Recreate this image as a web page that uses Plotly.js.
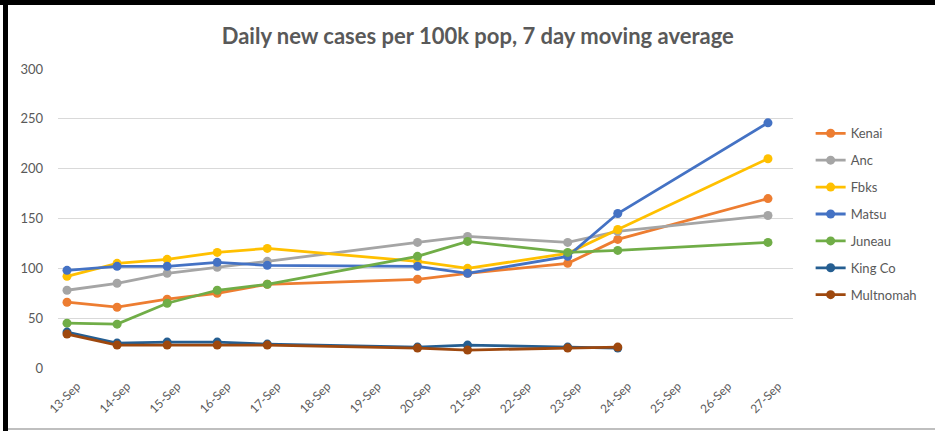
<!DOCTYPE html>
<html>
<head>
<meta charset="utf-8">
<script src="https://cdn.plot.ly/plotly-3.0.1.min.js"></script>
<style>
  html, body { margin: 0; padding: 0; background: #fff; }
  #wrap { position: relative; width: 935px; height: 431px; overflow: hidden; }
  #chart { position: absolute; left: 0; top: 0; width: 935px; height: 431px; }
  .bar { position: absolute; pointer-events: none; }
</style>
</head>
<body>
<div id="wrap">
  <div id="chart"></div>
  <div class="bar" style="left:0;top:0;width:935px;height:5px;background:#000;"></div>
  <div class="bar" style="left:3px;top:0;width:5px;height:431px;background:#000;"></div>
  <div class="bar" style="left:8px;top:428px;width:927px;height:2px;background:#bfbfbf;"></div>
</div>
<script>
// All category labels on the x axis
const allDates = ["13-Sep","14-Sep","15-Sep","16-Sep","17-Sep","18-Sep","19-Sep","20-Sep",
                  "21-Sep","22-Sep","23-Sep","24-Sep","25-Sep","26-Sep","27-Sep"];
// Dates with data
const datesAK = ["13-Sep","14-Sep","15-Sep","16-Sep","17-Sep","20-Sep","21-Sep","23-Sep","24-Sep","27-Sep"];
const datesOut = ["13-Sep","14-Sep","15-Sep","16-Sep","17-Sep","20-Sep","21-Sep","23-Sep","24-Sep"];

const kenai     = [66, 61, 69, 75, 84, 89, 95, 105, 129, 170];
const anc       = [78, 85, 95, 101, 107, 126, 132, 126, 137, 153];
const fbks      = [92, 105, 109, 116, 120, 107, 100, 115, 139, 210];
const matsu     = [98, 102, 102, 106, 103, 102, 95, 112, 155, 246];
const juneau    = [45, 44, 65, 78, 84, 112, 127, 116, 118, 126];
const kingCo    = [36, 25, 26, 26, 24, 21, 23, 21, 20];
const multnomah = [34, 23, 23, 23, 23, 20, 18, 20, 21];

const yTicks = [0, 50, 100, 150, 200, 250, 300];

const series = [
  {name: "Kenai",     x: datesAK,  y: kenai,     color: "#ED7D31"},
  {name: "Anc",       x: datesAK,  y: anc,       color: "#A5A5A5"},
  {name: "Fbks",      x: datesAK,  y: fbks,      color: "#FFC000"},
  {name: "Matsu",     x: datesAK,  y: matsu,     color: "#4472C4"},
  {name: "Juneau",    x: datesAK,  y: juneau,    color: "#70AD47"},
  {name: "King Co",   x: datesOut, y: kingCo,    color: "#255E91"},
  {name: "Multnomah", x: datesOut, y: multnomah, color: "#9E480E"}
];

const traces = series.map((s, i) => ({
  type: "scatter",
  mode: "lines+markers",
  name: s.name,
  legendgroup: "g" + i,
  x: s.x,
  y: s.y,
  line: {color: s.color, width: 2.8},
  marker: {color: s.color, size: 9},
  hoverinfo: "x+y+name"
}));

const font = "Lato, 'Open Sans', 'DejaVu Sans', sans-serif";

const layout = {
  width: 935,
  height: 431,
  margin: {l: 58, r: 142, t: 69, b: 63},
  paper_bgcolor: "#ffffff",
  plot_bgcolor: "#ffffff",
  font: {family: font, color: "#595959", size: 12},
  title: {
    text: "<b>Daily new cases per 100k pop, 7 day moving average</b>",
    font: {family: font, size: 22, color: "#595959"},
    x: 0.511, xanchor: "center",
    y: 0.915, yanchor: "middle"
  },
  xaxis: {
    type: "category",
    categoryorder: "array",
    categoryarray: allDates,
    tickvals: allDates,
    ticktext: allDates,
    range: [-0.18, 14.5],
    tickangle: -45,
    showgrid: false,
    zeroline: false,
    showline: false,
    ticks: "",
    ticklabelstandoff: 8,
    ticklabelshift: 10,
    tickfont: {family: font, size: 12, color: "#595959"},
    fixedrange: true
  },
  yaxis: {
    range: [0, 300],
    tickvals: yTicks,
    ticktext: yTicks.map(String),
    showgrid: true,
    gridcolor: "#d9d9d9",
    gridwidth: 1.3,
    zeroline: false,
    showline: false,
    ticks: "",
    ticklabelstandoff: 14,
    tickfont: {family: font, size: 13, color: "#595959"},
    fixedrange: true
  },
  showlegend: true,
  legend: {
    x: 1.024, xanchor: "left",
    y: 0.835, yanchor: "top",
    font: {family: font, size: 13, color: "#595959"},
    tracegroupgap: 7,
    bgcolor: "rgba(0,0,0,0)",
    itemwidth: 30
  }
};

Plotly.newPlot("chart", traces, layout, {displayModeBar: false, staticPlot: true});
</script>
</body>
</html>
